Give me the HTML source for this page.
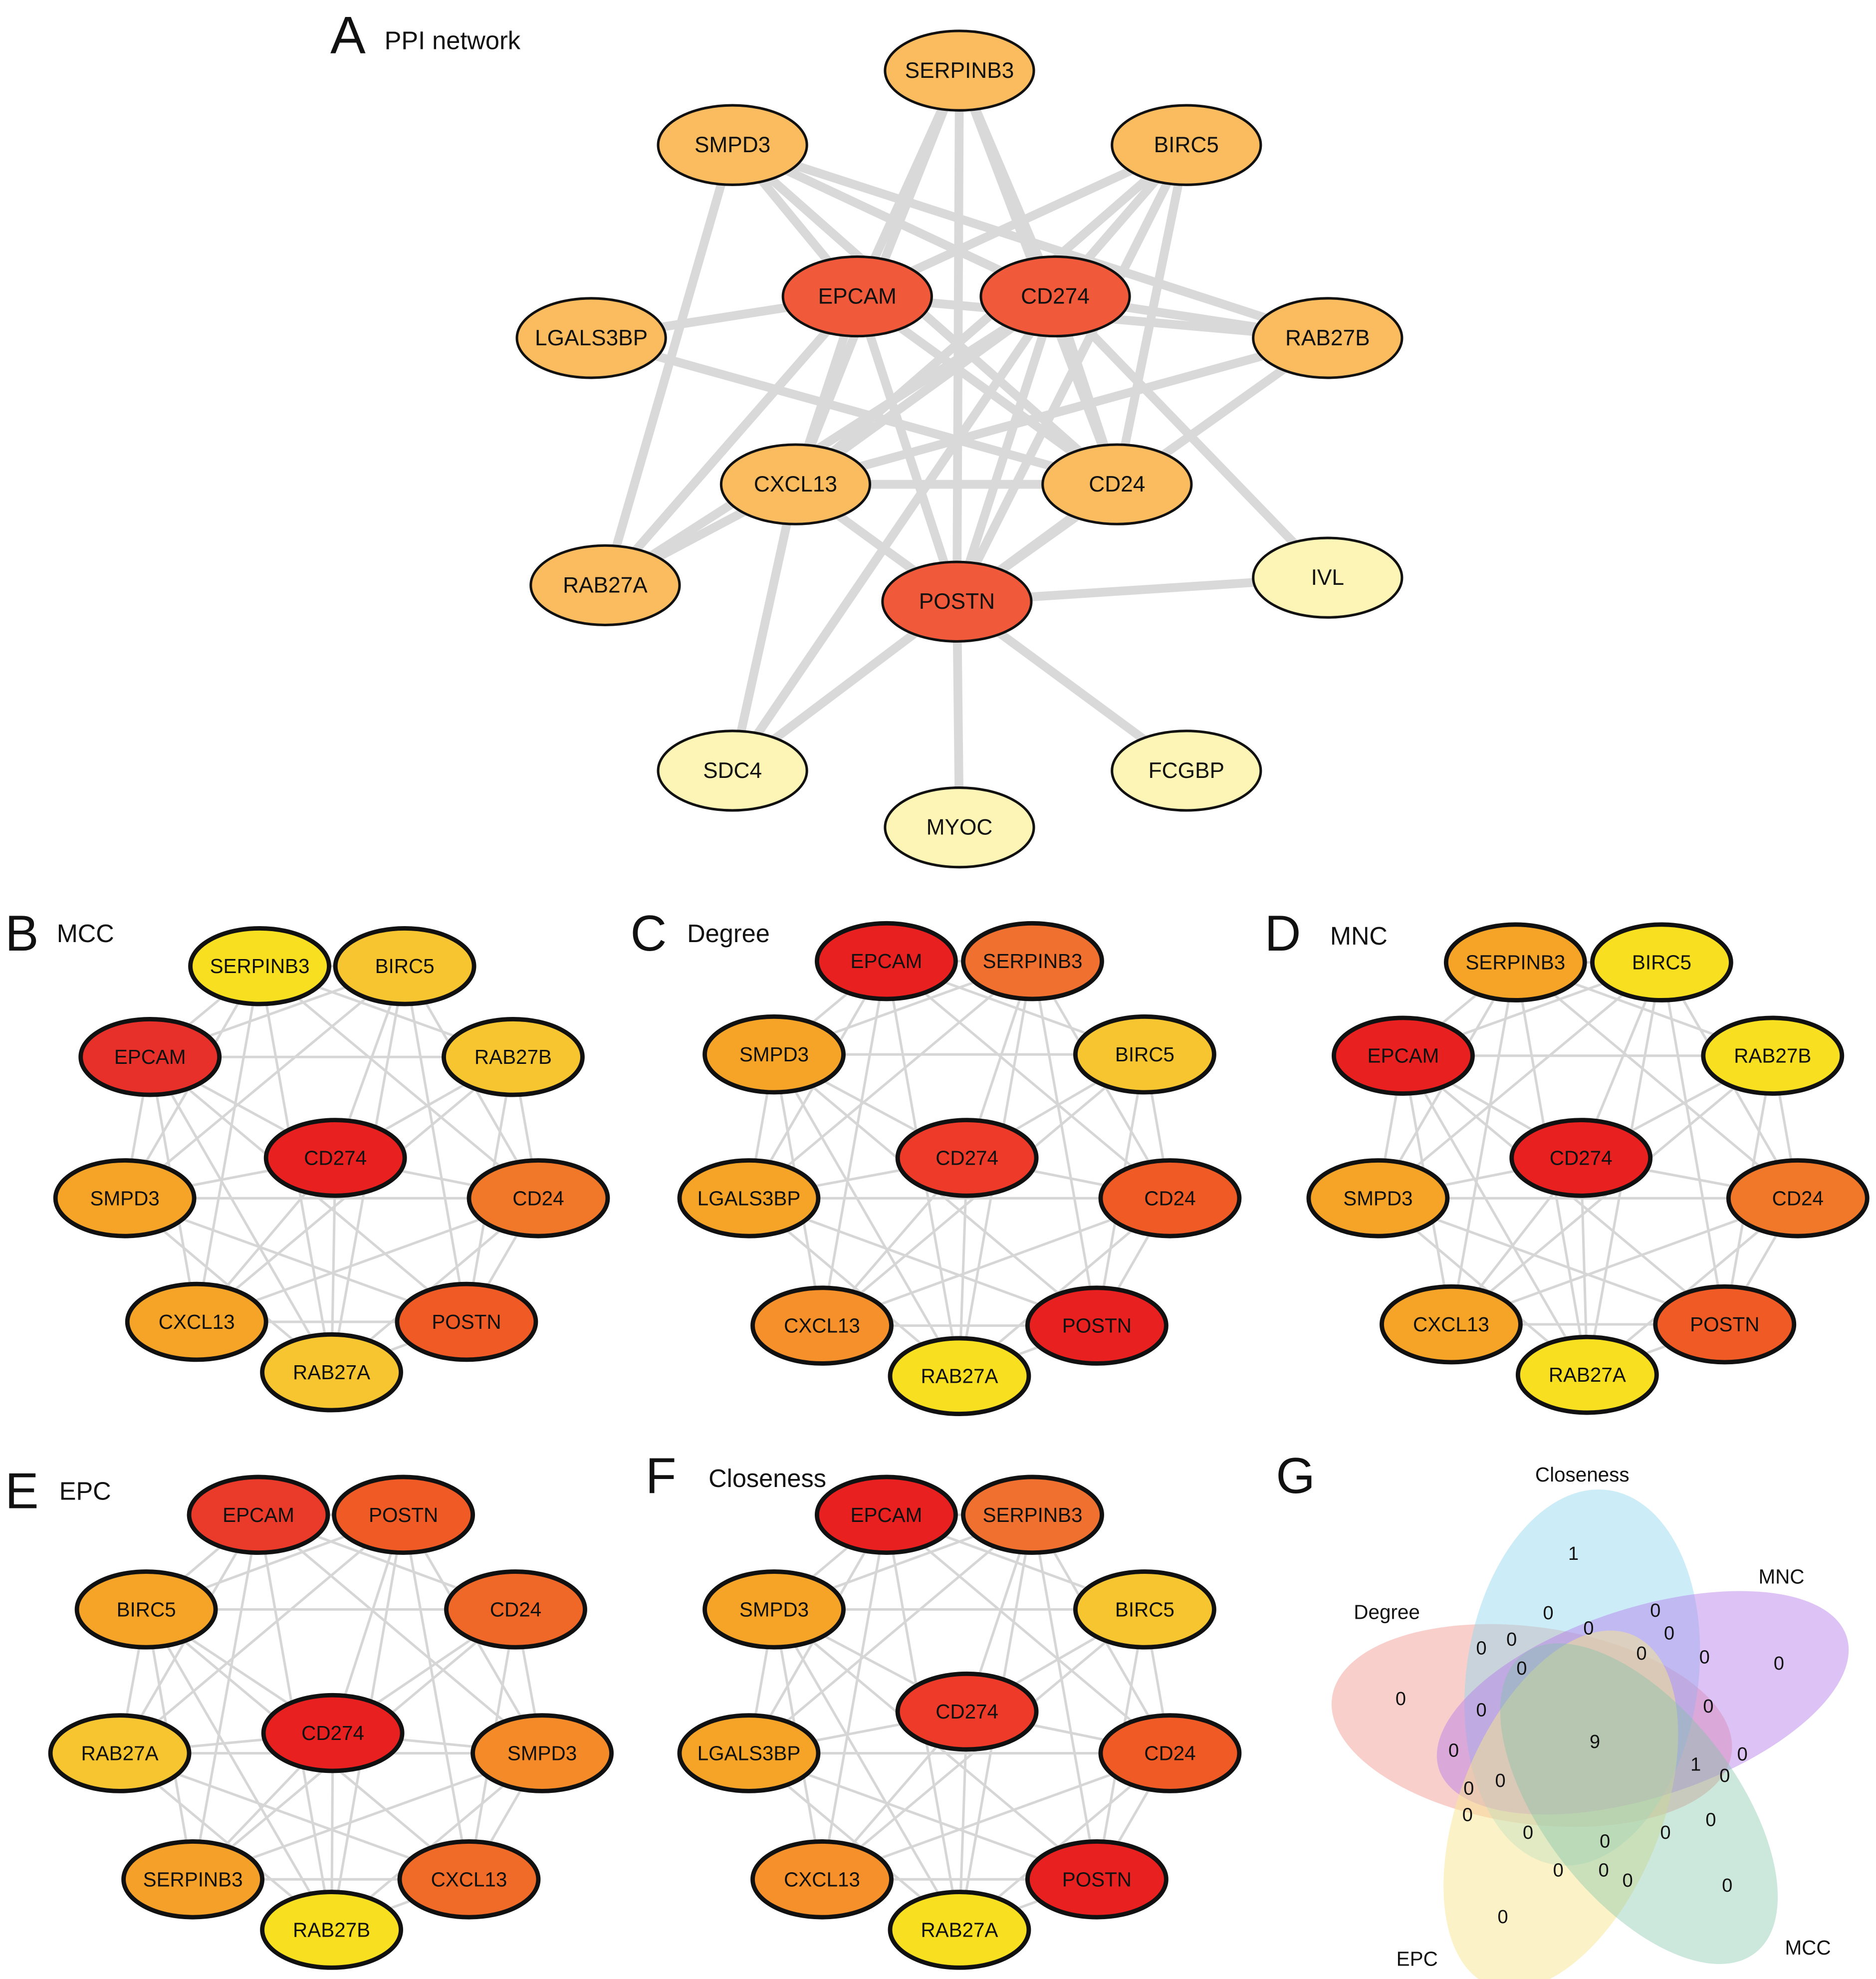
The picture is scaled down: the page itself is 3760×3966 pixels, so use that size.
<!DOCTYPE html>
<html><head><meta charset="utf-8"><style>
html,body{margin:0;padding:0;background:#fff;}
svg{display:block;}
text{font-family:"Liberation Sans",Arial,sans-serif;}
</style></head><body>
<svg id="s" width="3760" height="3966" viewBox="0 0 1488 1569" preserveAspectRatio="none" xmlns="http://www.w3.org/2000/svg">
<rect width="1488" height="1569" fill="#fff"/>
<g id="venn">
 <ellipse cx="1215" cy="1368" rx="160" ry="78" transform="rotate(8 1215 1368)" fill="#f4a09a" fill-opacity="0.5"/>
 <ellipse cx="1255" cy="1330" rx="92" ry="150" transform="rotate(8 1255 1330)" fill="#8fd8ee" fill-opacity="0.45"/>
 <ellipse cx="1303" cy="1350" rx="170" ry="75" transform="rotate(-18 1303 1350)" fill="#b37ae8" fill-opacity="0.45"/>
 <ellipse cx="1238" cy="1435" rx="150" ry="80" transform="rotate(-68 1238 1435)" fill="#f8e890" fill-opacity="0.5"/>
 <ellipse cx="1300" cy="1430" rx="150" ry="76" transform="rotate(52 1300 1430)" fill="#7fc4a8" fill-opacity="0.4"/>
</g>
<g id="g"></g>
</svg>
<script>
var NS="http://www.w3.org/2000/svg",G=document.getElementById("g");
function el(t,a,p){var e=document.createElementNS(NS,t);for(var k in a)e.setAttribute(k,a[k]);(p||G).appendChild(e);return e;}
function txt(x,y,s,sz,anc){var e=el("text",{x:x,y:y,"font-size":sz,"text-anchor":anc||"middle","dominant-baseline":"central",fill:"#111"});e.textContent=s;return e;}
var O="#fbbc60",R="#f05a3a",P="#fdf5b5";
var A={SERPINB3:[761,56,O],SMPD3:[581,115,O],BIRC5:[941,115,O],EPCAM:[680,235,R],CD274:[837,235,R],LGALS3BP:[469,268,O],RAB27B:[1053,268,O],CXCL13:[631,384,O],CD24:[886,384,O],RAB27A:[480,464,O],POSTN:[759,477,R],IVL:[1053,458,P],SDC4:[581,611,P],MYOC:[761,656,P],FCGBP:[941,611,P]};
var AE="SERPINB3-EPCAM SERPINB3-CD274 SERPINB3-POSTN SERPINB3-CD24 SERPINB3-CXCL13 SMPD3-CD274 SMPD3-RAB27B SMPD3-CD24 SMPD3-RAB27A SMPD3-EPCAM BIRC5-EPCAM BIRC5-CXCL13 BIRC5-POSTN BIRC5-CD24 BIRC5-CD274 EPCAM-LGALS3BP EPCAM-CD24 EPCAM-POSTN EPCAM-CXCL13 EPCAM-RAB27B EPCAM-RAB27A CD274-RAB27B CD274-CXCL13 CD274-POSTN CD274-IVL CD274-CD24 CD274-SDC4 LGALS3BP-CD24 RAB27B-POSTN RAB27B-CXCL13 CXCL13-CD24 CXCL13-POSTN CXCL13-RAB27A CXCL13-SDC4 RAB27A-CD274 POSTN-IVL POSTN-SDC4 POSTN-MYOC POSTN-FCGBP POSTN-CD24".split(" ");
AE.forEach(function(e){var p=e.split("-"),a=A[p[0]],b=A[p[1]];el("line",{x1:a[0],y1:a[1],x2:b[0],y2:b[1],stroke:"#d9d9d9","stroke-width":7});});
for(var k in A){var n=A[k];el("ellipse",{cx:n[0],cy:n[1],rx:59,ry:31.5,fill:n[2],stroke:"#111","stroke-width":2});txt(n[0],n[1],k,17.5);}
txt(262,28,"A",42,"start");txt(305,32,"PPI network",20,"start");
function panel(nodes,skip){
 var ks=Object.keys(nodes);
 for(var i=0;i<ks.length;i++)for(var j=i+1;j<ks.length;j++){
  if((i*7+j*3)%4==0)continue;
  var a=nodes[ks[i]],b=nodes[ks[j]];
  el("line",{x1:a[0],y1:a[1],x2:b[0],y2:b[1],stroke:"#d6d6d6","stroke-width":2});}
 ks.forEach(function(k){var n=nodes[k];el("ellipse",{cx:n[0],cy:n[1],rx:55,ry:30,fill:n[2],stroke:"#111","stroke-width":3.5});txt(n[0],n[1],k,16);});
}
var Y="#f8e020",Y2="#f7c530",Or="#f5a428",Or2="#f07828",Rd="#e82020",R2="#f05a25";
panel({SERPINB3:[206,766,Y],BIRC5:[321,766,Y2],EPCAM:[119,838,"#e8302a"],RAB27B:[407,838,Y2],CD274:[266,918,Rd],SMPD3:[99,950,Or],CD24:[427,950,Or2],CXCL13:[156,1048,Or],POSTN:[370,1048,R2],RAB27A:[263,1088,Y2]});
panel({EPCAM:[703,762,Rd],SERPINB3:[819,762,"#f07030"],SMPD3:[614,836,Or],BIRC5:[908,836,Y2],CD274:[767,918,"#ee3a28"],LGALS3BP:[594,950,Or],CD24:[928,950,R2],CXCL13:[652,1051,"#f5902a"],POSTN:[870,1051,Rd],RAB27A:[761,1091,Y]});
panel({SERPINB3:[1202,763,Or],BIRC5:[1318,763,Y],EPCAM:[1113,837,Rd],RAB27B:[1406,837,Y],CD274:[1254,918,Rd],SMPD3:[1093,950,Or],CD24:[1426,950,Or2],CXCL13:[1151,1050,Or],POSTN:[1368,1050,R2],RAB27A:[1259,1090,Y]});
panel({EPCAM:[205,1201,"#ea3a2a"],POSTN:[320,1201,R2],BIRC5:[116,1276,Or],CD24:[409,1276,"#f06828"],CD274:[264,1374,Rd],RAB27A:[95,1390,Y2],SMPD3:[430,1390,"#f58a28"],SERPINB3:[153,1490,"#f5a028"],CXCL13:[372,1490,"#f06a28"],RAB27B:[263,1530,Y]});
panel({EPCAM:[703,1201,Rd],SERPINB3:[819,1201,"#f07030"],SMPD3:[614,1276,Or],BIRC5:[908,1276,Y2],CD274:[767,1357,"#ee3a28"],LGALS3BP:[594,1390,Or],CD24:[928,1390,R2],CXCL13:[652,1490,"#f5902a"],POSTN:[870,1490,Rd],RAB27A:[761,1530,Y]});
txt(4,740,"B",40,"start");txt(45,740,"MCC",20,"start");
txt(500,740,"C",40,"start");txt(545,740,"Degree",20,"start");
txt(1003,740,"D",40,"start");txt(1055,742,"MNC",20,"start");
txt(4,1182,"E",40,"start");txt(47,1182,"EPC",20,"start");
txt(512,1170,"F",40,"start");txt(562,1172,"Closeness",20,"start");
txt(1012,1170,"G",40,"start");
txt(1255,1169,"Closeness",16);txt(1413,1250,"MNC",16);txt(1100,1278,"Degree",16);txt(1124,1553,"EPC",16);txt(1434,1544,"MCC",16);
[[1248,1232,"1"],[1228,1279,"0"],[1313,1277,"0"],[1175,1307,"0"],[1199,1300,"0"],[1260,1291,"0"],[1324,1295,"0"],[1207,1323,"0"],[1302,1311,"0"],[1352,1314,"0"],[1411,1319,"0"],[1111,1347,"0"],[1175,1356,"0"],[1355,1353,"0"],[1153,1388,"0"],[1265,1381,"9"],[1382,1391,"0"],[1345,1399,"1"],[1165,1418,"0"],[1190,1412,"0"],[1368,1408,"0"],[1164,1439,"0"],[1212,1453,"0"],[1357,1443,"0"],[1273,1460,"0"],[1321,1453,"0"],[1236,1483,"0"],[1272,1483,"0"],[1291,1491,"0"],[1370,1495,"0"],[1192,1520,"0"]].forEach(function(t){txt(t[0],t[1],t[2],15);});
</script>
</body></html>
